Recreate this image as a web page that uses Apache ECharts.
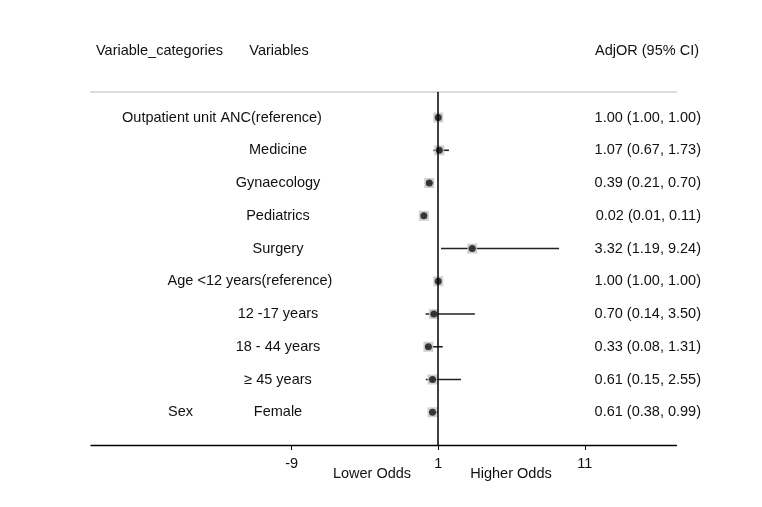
<!DOCTYPE html>
<html>
<head>
<meta charset="utf-8">
<script src="https://cdn.jsdelivr.net/npm/echarts@6/dist/echarts.min.js"></script>
<style>html,body{margin:0;padding:0;background:#fff;}#c{width:762px;height:507px;}</style>
</head>
<body>
<div id="c"></div>
<script>
const variables = ['Outpatient unit ANC(reference)', 'Medicine', 'Gynaecology', 'Pediatrics', 'Surgery',
  'Age <12 years(reference)', '12 -17 years', '18 - 44 years', '\u2265 45 years', 'Female'];
const categories = ['', '', '', '', '', '', '', '', '', 'Sex'];
const adjOR = [1.00, 1.07, 0.39, 0.02, 3.32, 1.00, 0.70, 0.33, 0.61, 0.61];
const ciLow = [1.00, 0.67, 0.21, 0.01, 1.19, 1.00, 0.14, 0.08, 0.15, 0.38];
const ciHigh = [1.00, 1.73, 0.70, 0.11, 9.24, 1.00, 3.50, 1.31, 2.55, 0.99];
const xTicks = [-9, 1, 11];
const nullValue = 1;

const FONT = "'Liberation Sans', Arial, sans-serif";
const FS = 14.5;
const TXT = '#111';
const rows = variables.map((v, i) => i + 1);

// text column layout (pixels across the full-width text grid)
const varColX = 278;
const specialX = { 0: 222, 5: 250 };
const catColLeft = 168;
const valColRight = 701;

const chart = echarts.init(document.getElementById('c'), null, { renderer: 'canvas' });

const textLabel = (extra) => Object.assign({
  show: true, color: TXT, fontFamily: FONT, fontSize: FS, opacity: 1,
  textBorderWidth: 0, textShadowBlur: 0,
  formatter: p => p.name
}, extra);
const gtext = (text, x, y, align) => ({
  type: 'text', x: x, y: y, silent: true,
  style: { text: text, font: FS + 'px ' + FONT, fill: TXT, textAlign: align, textVerticalAlign: 'middle' }
});

const option = {
  animation: false,
  backgroundColor: '#fff',
  grid: [
    { left: 91, right: 85.5, top: 92, bottom: 62 },
    { left: 0, right: 0, top: 92, bottom: 62 }
  ],
  xAxis: [
    {
      type: 'value', gridIndex: 0, min: -22.68, max: 17.25,
      axisLine: { show: true, lineStyle: { color: '#000', width: 1.3 } },
      axisTick: { show: true, customValues: xTicks, length: 5, lineStyle: { color: '#000' } },
      axisLabel: { show: true, customValues: xTicks, color: TXT, fontFamily: FONT, fontSize: FS, margin: 11 },
      splitLine: { show: false }
    },
    {
      type: 'value', gridIndex: 0, position: 'top', min: -22.68, max: 17.25,
      axisLine: { show: true, lineStyle: { color: '#dcdcdc', width: 2 } },
      axisTick: { show: false }, axisLabel: { show: false }, splitLine: { show: false }
    },
    {
      type: 'value', gridIndex: 1, min: 0, max: 762, show: false
    }
  ],
  yAxis: [
    { type: 'value', gridIndex: 0, inverse: true, min: 0.22, max: 11, show: false },
    { type: 'value', gridIndex: 1, inverse: true, min: 0.22, max: 11, show: false }
  ],
  graphic: [
    gtext('Variable_categories', 96, 51, 'left'),
    gtext('Variables', 279, 51, 'center'),
    gtext('AdjOR (95% CI)', 699, 51, 'right'),
    gtext('Lower Odds', 372, 474, 'center'),
    gtext('Higher Odds', 511, 474, 'center')
  ],
  series: [
    {
      type: 'custom', xAxisIndex: 0, yAxisIndex: 0,
      data: rows.map((r, i) => [ciLow[i], ciHigh[i], r]),
      encode: { x: [0, 1], y: 2 },
      renderItem: (params, api) => {
        const a = api.coord([api.value(0), api.value(2)]);
        const b = api.coord([api.value(1), api.value(2)]);
        return { type: 'line', shape: { x1: a[0], y1: a[1], x2: b[0], y2: b[1] },
          style: { stroke: '#222', lineWidth: 1.6 } };
      },
      markLine: {
        silent: true, symbol: 'none', label: { show: false },
        lineStyle: { color: '#000', width: 1.5, type: 'solid' },
        data: [{ xAxis: nullValue }]
      }
    },
    {
      type: 'scatter', xAxisIndex: 0, yAxisIndex: 0, symbol: 'rect', symbolSize: 10,
      itemStyle: { color: '#c4c4c4' },
      data: rows.map((r, i) => [adjOR[i], r])
    },
    {
      type: 'scatter', xAxisIndex: 0, yAxisIndex: 0, symbol: 'circle', symbolSize: 7,
      itemStyle: { color: '#111' },
      data: rows.map((r, i) => [adjOR[i], r])
    },
    {
      type: 'scatter', xAxisIndex: 2, yAxisIndex: 1, symbolSize: 0, silent: true,
      itemStyle: { color: 'rgba(0,0,0,0)' },
      label: textLabel({ position: 'inside' }),
      data: rows.map((r, i) => ({ name: variables[i], value: [specialX[i] !== undefined ? specialX[i] : varColX, r] }))
    },
    {
      type: 'scatter', xAxisIndex: 2, yAxisIndex: 1, symbolSize: 0, silent: true,
      itemStyle: { color: 'rgba(0,0,0,0)' },
      label: textLabel({ position: 'right', distance: 0 }),
      data: rows.map((r, i) => ({ name: categories[i], value: [catColLeft, r] })).filter(d => d.name)
    },
    {
      type: 'scatter', xAxisIndex: 2, yAxisIndex: 1, symbolSize: 0, silent: true,
      itemStyle: { color: 'rgba(0,0,0,0)' },
      label: textLabel({ position: 'left', distance: 0 }),
      data: rows.map((r, i) => ({
        name: adjOR[i].toFixed(2) + ' (' + ciLow[i].toFixed(2) + ', ' + ciHigh[i].toFixed(2) + ')',
        value: [valColRight, r]
      }))
    }
  ]
};
chart.setOption(option);
</script>
</body>
</html>
